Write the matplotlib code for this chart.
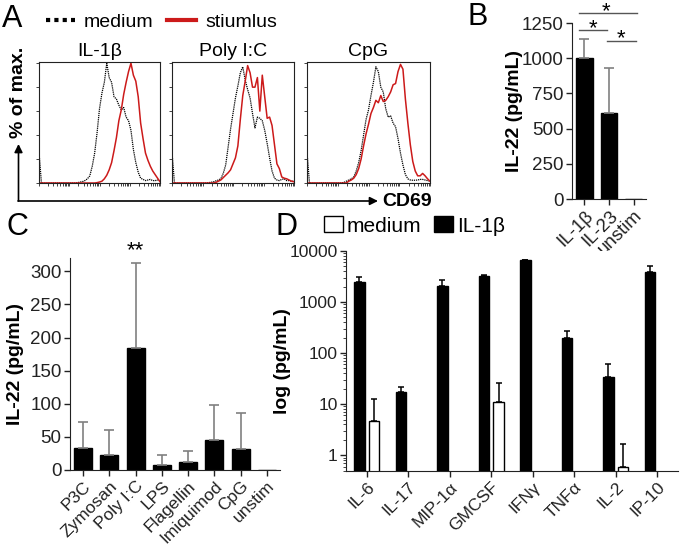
import numpy as np
import matplotlib
matplotlib.use('Agg')
import matplotlib.pyplot as plt
from matplotlib.lines import Line2D
from matplotlib.patches import Patch, FancyArrowPatch

plt.rcParams['font.family'] = ['Liberation Sans', 'DejaVu Sans']
plt.rcParams['axes.edgecolor'] = '#222222'
plt.rcParams['xtick.color'] = '#222222'
plt.rcParams['ytick.color'] = '#222222'

# ---- panel A: CD69 histograms (% of max, channel 0-100) ----
chan = np.arange(0, 101, 2)
med_il1b = [26] + [0] * 15 + [0.3, 0.8, 1.2, 2, 3.5, 6, 14, 25, 42, 62, 75, 84, 100, 88, 84, 72, 70, 65,
                              61, 63, 55, 52, 44, 28, 17, 9, 4, 3, 2, 2.5, 3, 2, 2, 2.5, 2]
stim_il1b = [0] * 24 + [0.3, 0.8, 1.5, 3.5, 6.5, 11, 17, 27, 38, 52, 61, 74, 84, 93, 100, 90, 85, 72,
                        50, 37, 25, 19, 14, 10, 7, 4, 1]
med_polyic = [26] + [0] * 14 + [0.3, 0.6, 1, 1.8, 2.5, 3.5, 8, 15, 30, 45, 58, 71, 81, 92, 97, 86, 78, 71,
                                58, 46, 55, 54, 52, 44, 33, 21, 10, 4, 2.5, 2, 3, 3.5, 2, 2, 1.5, 1.5]
stim_polyic = [0] * 18 + [0.5, 1.5, 2.5, 4.5, 6.5, 8.5, 11, 16, 21, 31, 53, 73, 85, 98, 92, 80, 80, 88,
                          60, 90, 72, 54, 55, 48, 32, 16, 12, 5, 4, 3.5, 2.5, 1.5, 1]
med_cpg = [26] + [0] * 14 + [0.5, 1.5, 2.5, 3.5, 5, 10, 17, 27, 40, 53, 61, 73, 84, 97, 93, 80, 76, 62,
                             55, 56, 50, 47, 37, 25, 15, 7, 3.5, 2.5, 2.3, 2.3, 2.5, 3, 3, 2.5, 2, 1.5]
stim_cpg = [0] * 17 + [1.5, 2.5, 4, 7, 12, 20, 31, 41, 49, 58, 63, 69, 67, 73, 68, 69, 72, 76, 82, 83,
                       93, 99, 95, 70, 50, 32, 18, 10, 6, 6, 8, 6, 3.5, 1.5]
hist_titles = ['IL-1β', 'Poly I:C', 'CpG']

# ---- panel B ----
b_cats = ['IL-1β', 'IL-23', 'unstim']
b_mean = np.array([1000, 610, 0])
b_err = np.array([135, 320, 0])
b_yticks = [0, 250, 500, 750, 1000, 1250]

# ---- panel C ----
c_cats = ['P3C', 'Zymosan', 'Poly I:C', 'LPS', 'Flagellin', 'Imiquimod', 'CpG', 'unstim']
c_mean = np.array([33, 22, 184, 7.6, 12, 45, 32, 0])
c_err = np.array([39, 38, 128, 14.4, 17, 53, 54, 0])
c_yticks = [0, 50, 100, 150, 200, 250, 300]

# ---- panel D ----
d_cats = ['IL-6', 'IL-17', 'MIP-1α', 'GMCSF', 'IFNγ', 'TNFα', 'IL-2', 'IP-10']
d_il1b = np.array([2430, 17.2, 2060, 3235, 6660, 200, 33.8, 3873])
d_il1b_err = np.array([620, 4.3, 600, 95, 40, 74, 27, 1137])
d_med = np.array([4.6, 0, 0, 10.8, 0, 0, 0.6, 0])
d_med_err = np.array([8.1, 0, 0, 14.6, 0, 0, 1.04, 0])
d_yticks = [1, 10, 100, 1000, 10000]
d_ylabels = ['1', '10', '100', '1000', '10000']

RED = '#cc1a1a'
GREY = '#808080'
W, H = 680, 553
fig = plt.figure(figsize=(W / 100, H / 100), dpi=100)


def box(x0, y0, x1, y1):
    return fig.add_axes([x0 / W, 1 - y1 / H, (x1 - x0) / W, (y1 - y0) / H])


def fx(px):
    return px / W


def fy(py):
    return 1 - py / H


# panel A
decade_ticks = [25 * (d + np.log10(k)) for d in range(4) for k in range(1, 10)] + [100]
spots = [(39, 160), (172, 294), (307, 430)]
for (x0, x1), title, m, s in zip(spots, hist_titles,
                                 [med_il1b, med_polyic, med_cpg],
                                 [stim_il1b, stim_polyic, stim_cpg]):
    ax = box(x0, 62, x1, 183)
    ax.plot(chan, m, color='black', lw=0.9, ls=(0, (1, 0.7)))
    ax.plot(chan, s, color=RED, lw=1.1)
    ax.set_xlim(0, 100)
    ax.set_ylim(0, 101)
    ax.set_yticks(range(0, 101, 20))
    ax.set_xticks(decade_ticks)
    ax.tick_params(labelleft=False, labelbottom=False, length=2, width=0.6)
    for sp in ax.spines.values():
        sp.set_linewidth(0.8)
    ax.set_title(title, fontsize=14, pad=4)

fig.add_artist(FancyArrowPatch((fx(18.5), fy(201)), (fx(18.5), fy(144)), transform=fig.transFigure,
                               arrowstyle='-|>', mutation_scale=12, lw=1.2, color='black',
                               shrinkA=0, shrinkB=0))
fig.add_artist(FancyArrowPatch((fx(18), fy(201)), (fx(378), fy(201)), transform=fig.transFigure,
                               arrowstyle='-|>', mutation_scale=12, lw=1.2, color='black',
                               shrinkA=0, shrinkB=0))
fig.text(fx(19), fy(92), '% of max.', rotation=90, ha='center', va='center',
         fontsize=14, fontweight='bold')
fig.text(fx(382), fy(202), 'CD69', ha='left', va='center', fontsize=14, fontweight='bold')

handles = [Line2D([], [], color='black', lw=3, ls=(0, (1, 1))), Line2D([], [], color=RED, lw=3)]
fig.legend(handles, ['medium', 'stiumlus'], loc='center left', bbox_to_anchor=(fx(46), fy(22)),
           ncol=2, frameon=False, fontsize=14, handlelength=1.5, handletextpad=0.45,
           columnspacing=0.7, borderpad=0, borderaxespad=0)

# panel labels
for lab, x, y in [('A', 2, 27), ('B', 468, 25), ('C', 6, 235), ('D', 276, 235)]:
    fig.text(fx(x), fy(y), lab, fontsize=22, ha='left', va='baseline')


def bar_panel(ax, cats, mean, err, width, ecolor, capsize):
    x = np.arange(len(cats))
    ax.bar(x, mean, width=width, color='black', edgecolor='black', lw=1)
    keep = err > 0
    ax.errorbar(x[keep], mean[keep], yerr=[np.zeros(keep.sum()), err[keep]], fmt='none',
                ecolor=ecolor, elinewidth=1.2, capsize=capsize, capthick=1.2)
    ax.set_xlim(-0.5, len(cats) - 0.5)
    ax.set_xticks(x)
    ax.set_xticklabels(cats, rotation=45, ha='right', rotation_mode='anchor')
    for sp in ['top', 'right']:
        ax.spines[sp].set_visible(False)
    ax.tick_params(direction='out', length=4, width=1, pad=2)
    return x


# panel B
axb = box(572, 23, 646, 199)
bar_panel(axb, b_cats, b_mean, b_err, 0.68, GREY, 3.6)
axb.set_ylim(0, 1250)
axb.set_yticks(b_yticks)
axb.tick_params(axis='y', labelsize=13.5)
axb.tick_params(axis='x', labelsize=13.5)
axb.set_ylabel('IL-22 (pg/mL)', fontsize=14, fontweight='bold')
axb.yaxis.set_label_coords(-0.66, 0.5)
for (xa, xb, yl), (xs, ys) in zip([(-0.2, 2.12, 1321), (-0.2, 0.92, 1200), (0.92, 2.08, 1122)],
                                  [(0.88, 1292), (0.36, 1172), (1.48, 1101)]):
    axb.plot([xa, xb], [yl, yl], color='#555555', lw=1, clip_on=False)
    axb.text(xs, ys, '*', ha='center', va='baseline', fontsize=16, clip_on=False)

# panel C
axc = box(70, 258, 280, 470)
bar_panel(axc, c_cats, c_mean, c_err, 0.68, GREY, 3.6)
axc.set_ylim(0, 320)
axc.set_yticks(c_yticks)
axc.tick_params(axis='y', labelsize=13.5)
axc.tick_params(axis='x', labelsize=12.5)
axc.set_ylabel('IL-22 (pg/mL)', fontsize=14, fontweight='bold')
axc.yaxis.set_label_coords(-0.22, 0.5)
axc.text(2, 322, '**', ha='center', va='baseline', fontsize=16, clip_on=False)

# panel D
axd = box(346, 251, 678, 471)
axd.set_yscale('log')
xd = np.arange(len(d_cats))
axd.bar(xd - 0.175, d_il1b, width=0.26, color='black', edgecolor='black', lw=1)
axd.bar(xd + 0.175, d_med, width=0.26, color='white', edgecolor='black', lw=1)
axd.errorbar(xd - 0.175, d_il1b, yerr=[np.zeros(len(xd)), d_il1b_err], fmt='none',
             ecolor='black', elinewidth=1.1, capsize=2.3, capthick=1.1)
keep = d_med > 0
axd.errorbar(xd[keep] + 0.175, d_med[keep], yerr=[np.zeros(keep.sum()), d_med_err[keep]],
             fmt='none', ecolor='black', elinewidth=1.1, capsize=2.3, capthick=1.1)
axd.set_xlim(-0.5, len(d_cats) - 0.5)
axd.set_ylim(0.49, 10000)
axd.set_xticks(xd)
axd.set_xticklabels(d_cats, rotation=45, ha='right', rotation_mode='anchor')
axd.set_yticks(d_yticks)
axd.set_yticklabels(d_ylabels)
axd.yaxis.set_minor_locator(matplotlib.ticker.LogLocator(base=10, subs=np.arange(2, 10)))
axd.yaxis.set_minor_formatter(matplotlib.ticker.NullFormatter())
for sp in ['top', 'right']:
    axd.spines[sp].set_visible(False)
axd.tick_params(direction='out', length=4, width=1, pad=2, labelsize=12.5)
axd.tick_params(which='minor', length=2, width=0.6)
axd.set_ylabel('log (pg/mL)', fontsize=14, fontweight='bold')
axd.yaxis.set_label_coords(-0.165, 0.5)
dh = [Patch(facecolor='white', edgecolor='black'), Patch(facecolor='black', edgecolor='black')]
fig.legend(dh, ['medium', 'IL-1β'], loc='center left', bbox_to_anchor=(fx(324), fy(226)),
           ncol=2, frameon=False, fontsize=15, handlelength=0.9, handleheight=0.8,
           handletextpad=0.2, columnspacing=0.6, borderpad=0, borderaxespad=0)

fig.savefig('out.png', dpi=100)
